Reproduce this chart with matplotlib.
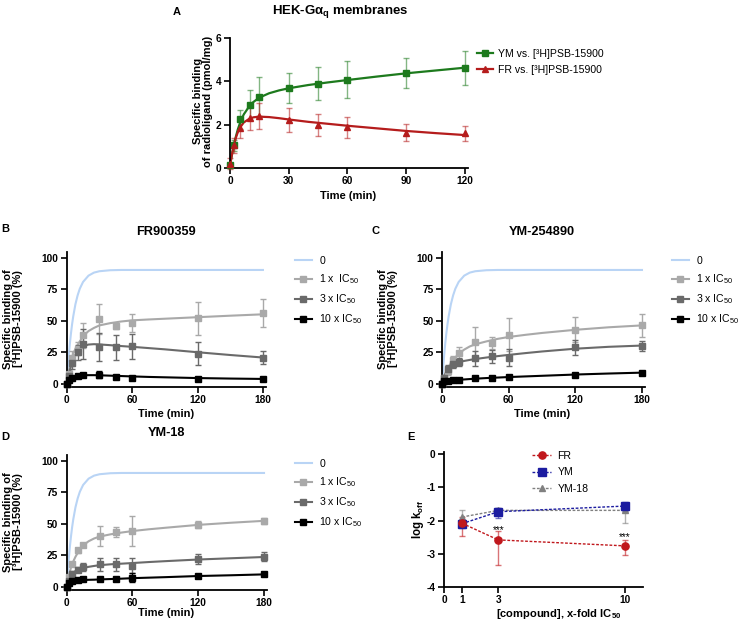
import matplotlib
matplotlib.use("Agg")
import matplotlib.pyplot as plt
from matplotlib.lines import Line2D

plt.rcParams['font.family'] = ['Liberation Sans', 'DejaVu Sans']
plt.rcParams['mathtext.fontset'] = 'custom'
plt.rcParams['mathtext.rm'] = 'Liberation Sans'
plt.rcParams['mathtext.bf'] = 'Liberation Sans:bold'
plt.rcParams['mathtext.it'] = 'Liberation Sans:italic'
plt.rcParams['axes.unicode_minus'] = False

# ---------------- Panel A data ----------------
a_t = [0, 2, 5, 10, 15, 30, 45, 60, 90, 120]
a_ym = [0.15, 1.05, 2.25, 2.9, 3.3, 3.7, 3.9, 4.07, 4.4, 4.63]
a_ym_err = [0.1, 0.25, 0.45, 0.7, 0.9, 0.7, 0.78, 0.85, 0.7, 0.78]
a_fr = [0.2, 1.05, 1.85, 2.3, 2.4, 2.2, 2.0, 1.87, 1.63, 1.6]
a_fr_err = [0.25, 0.35, 0.45, 0.55, 0.6, 0.55, 0.5, 0.47, 0.38, 0.35]
a_ct = [0, 1, 2, 3, 4, 5, 7, 10, 12, 15, 20, 25, 30, 40, 50, 60, 75, 90, 105, 120]
a_ym_fit = [0.12, 0.62, 1.07, 1.45, 1.78, 2.05, 2.47, 2.87, 3.05, 3.25, 3.45, 3.58, 3.68, 3.83, 3.95, 4.06, 4.22, 4.37, 4.5, 4.63]
a_fr_fit = [0.12, 0.62, 1.05, 1.4, 1.65, 1.85, 2.1, 2.28, 2.34, 2.37, 2.35, 2.3, 2.24, 2.13, 2.04, 1.95, 1.83, 1.71, 1.61, 1.52]
a_labels = ['YM vs. [³H]PSB-15900', 'FR vs. [³H]PSB-15900']

# ---------------- Panels B-D data ----------------
k_t = [0, 2, 5, 10, 15, 30, 45, 60, 120, 180]
k_ct = [0, 1, 2, 3, 4, 5, 6, 8, 10, 12, 15, 20, 25, 30, 40, 50, 60, 75, 90, 120, 150, 180]
ctrl_fit = [0, 12.6, 23.4, 32.8, 40.8, 47.8, 53.7, 63.3, 70.3, 75.6, 81.0, 86.0, 88.4, 89.5, 90.3, 90.5, 90.5, 90.5, 90.5, 90.5, 90.5, 90.5]
k_labels = ['0', '1 x  IC$_{50}$', '3 x IC$_{50}$', '10 x IC$_{50}$']
k_labels_c = ['0', '1 x IC$_{50}$', '3 x IC$_{50}$', '10 x IC$_{50}$']

b_1x = [0, 8, 20.5, 28, 38.5, 51.5, 46, 48.5, 52, 56.5]
b_1x_err = [1, 3, 6, 5, 10, 12, 2, 7, 13, 11]
b_3x = [0, 6, 17, 25, 32, 29.5, 29, 30, 24, 21]
b_3x_err = [1, 2, 5, 6, 12, 11, 10, 10, 9, 5]
b_10x = [0, 3, 5, 6.5, 7, 7.5, 5.5, 4.5, 4, 4]
b_10x_err = [0.5, 1, 1, 1, 1, 2.5, 1, 1, 1, 1]
b_1x_fit = [0, 5.5, 10, 14, 17.7, 21, 24, 28, 31, 33.8, 38, 42, 44.5, 46.5, 48.3, 49.6, 50.5, 51.2, 51.8, 53, 54.2, 55.3]
b_3x_fit = [0, 4.3, 8, 11.3, 14.3, 17, 19.3, 23, 26, 28, 30, 31.3, 31.6, 31.4, 30.8, 30.1, 29.5, 28.5, 27.5, 25.2, 23, 21]
b_10x_fit = [0, 1.7, 3, 3.9, 4.6, 5.2, 5.6, 6.1, 6.5, 6.7, 6.9, 7.0, 7.0, 6.9, 6.6, 6.3, 6.0, 5.6, 5.3, 4.7, 4.3, 4.0]

c_1x = [0, 5, 10.5, 19, 24.5, 33, 32.5, 39, 43, 46.5]
c_1x_err = [1, 2, 3, 3, 5, 12, 5, 13, 10, 9]
c_3x = [0, 5, 12, 15.5, 17.5, 20.5, 22, 21, 29, 30.5]
c_3x_err = [1, 2, 3, 3, 3, 6, 5, 7, 6, 4]
c_10x = [0, 2, 2.5, 3, 3.5, 4.5, 5, 5.5, 7.5, 9]
c_10x_err = [0.5, 0.5, 0.5, 0.5, 0.5, 0.7, 0.7, 0.7, 1.2, 0.8]
c_1x_fit = [0, 3.2, 6, 8.3, 10.3, 12, 13.7, 16.5, 19, 21, 24, 27.3, 29.8, 31.5, 33.8, 35.8, 37.3, 39, 40.5, 43, 45, 46.5]
c_3x_fit = [0, 3.3, 6, 8, 9.8, 11.3, 12.5, 14.3, 15.5, 16.4, 17.3, 18.3, 19.1, 19.8, 21, 22.1, 23.1, 24.5, 25.8, 28, 29.5, 30.5]
c_10x_fit = [0, 1.0, 1.7, 2.1, 2.4, 2.6, 2.7, 2.9, 3.0, 3.1, 3.3, 3.6, 3.9, 4.2, 4.7, 5.1, 5.5, 6.0, 6.5, 7.5, 8.3, 9.0]

d_1x = [0, 8, 18, 29, 33.5, 40.5, 44, 44.5, 49.5, 52.5]
d_1x_err = [1, 2, 1, 2, 1.5, 8, 4, 12, 3, 2.5]
d_3x = [0, 5, 10.5, 13.5, 16, 18, 18, 17, 22, 24]
d_3x_err = [1, 1.5, 2, 2, 3, 5, 5, 6, 4, 3.5]
d_10x = [0, 3, 5, 5.5, 6, 6, 6.5, 7.5, 9, 10]
d_10x_err = [0.5, 1, 1, 1, 1, 1, 1, 3.5, 1.5, 1.5]
d_1x_fit = [0, 4.8, 9, 12.6, 15.6, 18, 20.3, 24, 27, 29.6, 33, 36.3, 38.5, 40, 41.8, 43.2, 44.4, 45.8, 47, 49.3, 51, 52.5]
d_3x_fit = [0, 3.3, 6, 7.8, 9.3, 10.5, 11.4, 12.6, 13.5, 14.2, 15, 16, 16.7, 17.3, 18, 18.5, 19, 19.8, 20.5, 21.8, 22.8, 23.8]
d_10x_fit = [0, 1.8, 3, 3.7, 4.2, 4.5, 4.7, 5.0, 5.2, 5.3, 5.5, 5.7, 5.8, 6.0, 6.3, 6.6, 7.0, 7.4, 7.8, 8.7, 9.3, 10.0]

# ---------------- Panel E data ----------------
e_x = [1, 3, 10]
e_fr = [-2.08, -2.58, -2.76]
e_fr_lo = [0.39, 0.77, 0.27]
e_fr_hi = [0.19, 0.26, 0.18]
e_ym = [-2.09, -1.73, -1.56]
e_ym_lo = [0.12, 0.18, 0.15]
e_ym_hi = [0.12, 0.12, 0.12]
e_y18 = [-1.89, -1.69, -1.69]
e_y18_lo = [0.2, 0.08, 0.37]
e_y18_hi = [0.22, 0.08, 0.05]
e_labels = ['FR', 'YM', 'YM-18']
e_star_x = [3, 10]
e_star_y = [-2.27, -2.51]

# ---------------- figure ----------------
W, H = 738, 623
fig = plt.figure(figsize=(W / 100, H / 100), dpi=100)


def px_axes(x0, x1, ytop, ybot):
    return fig.add_axes([x0 / W, 1 - ybot / H, (x1 - x0) / W, (ybot - ytop) / H])


def fx(x):
    return x / W


def fy(y):
    return 1 - y / H


TICK_FS = 7.3
LAB_FS = 8
TITLE_FS = 9.2
LEG_FS = 7.6
MS = 3.8


def style(ax):
    for s in ['top', 'right']:
        ax.spines[s].set_visible(False)
    for s in ['left', 'bottom']:
        ax.spines[s].set_linewidth(1.3)
    ax.tick_params(direction='out', length=4, width=1.2, labelsize=TICK_FS, pad=2)
    for lab in ax.get_xticklabels() + ax.get_yticklabels():
        lab.set_fontweight('bold')


# ---------- Panel A ----------
green = '#1d7a1d'
red = '#b51c1c'
axA = px_axes(230, 467.9, 38, 168)
axA.errorbar(a_t, a_ym, yerr=a_ym_err, fmt='none', ecolor=green, alpha=0.55,
             elinewidth=1, capsize=2.2, capthick=1, clip_on=False)
axA.errorbar(a_t, a_fr, yerr=a_fr_err, fmt='none', ecolor=red, alpha=0.55,
             elinewidth=1, capsize=2.2, capthick=1, clip_on=False)
axA.plot(a_ct, a_ym_fit, color=green, lw=1.6)
axA.plot(a_ct, a_fr_fit, color=red, lw=1.6)
axA.plot(a_t, a_ym, 's', color=green, ms=MS, clip_on=False, zorder=5)
axA.plot(a_t, a_fr, '^', color=red, ms=MS, clip_on=False, zorder=5)
axA.set_xlim(0, 121.5)
axA.set_ylim(0, 6)
axA.set_xticks([0, 30, 60, 90, 120])
axA.set_yticks([0, 2, 4, 6])
style(axA)
axA.set_xlabel('Time (min)', fontsize=LAB_FS, fontweight='bold')
axA.xaxis.set_label_coords(fx(348), fy(191), transform=fig.transFigure)
axA.set_ylabel('Specific binding\nof radioligand (pmol/mg)', fontsize=LAB_FS,
               fontweight='bold', linespacing=1.0)
axA.yaxis.set_label_coords(fx(213), fy(101), transform=fig.transFigure)
hA = [Line2D([], [], color=green, marker='s', ms=MS, lw=1.6),
      Line2D([], [], color=red, marker='^', ms=MS, lw=1.6)]
axA.legend(hA, a_labels, loc='upper left', bbox_to_anchor=(fx(477), fy(49)),
           bbox_transform=fig.transFigure, frameon=False, fontsize=LEG_FS,
           handlelength=1.5, handletextpad=0.5, labelspacing=0.55,
           borderpad=0, borderaxespad=0)
fig.text(fx(340), fy(12), 'HEK-Gα$_{\\mathbf{q}}$ membranes', ha='center', va='center',
         fontsize=9.5, fontweight='bold')
fig.text(fx(177), fy(12), 'A', ha='center', va='center', fontsize=8, fontweight='bold')

# ---------- Panels B-D ----------
c_ctrl = '#b9d4f5'
c1 = '#a9a9a9'
c3 = '#6a6a6a'
c10 = '#000000'


def kin_panel(ax, p1, e1, f1, p3, e3, f3, p10, e10, f10, labels, title, tx, ty, letter, lx, ly,
              legx, legy, ylabx, ylaby, xlab_y):
    ax.plot(k_ct, ctrl_fit, color=c_ctrl, lw=1.5)
    for p, e, f, c in [(p1, e1, f1, c1), (p3, e3, f3, c3), (p10, e10, f10, c10)]:
        ax.errorbar(k_t, p, yerr=e, fmt='none', ecolor=c, elinewidth=1, capsize=2.2,
                    capthick=1, clip_on=False)
        ax.plot(k_ct, f, color=c, lw=1.5)
        ax.plot(k_t, p, 's', color=c, ms=MS, clip_on=False, zorder=5)
    ax.set_xlim(0, 183)
    ax.set_ylim(-2, 105)
    ax.set_xticks([0, 60, 120, 180])
    ax.set_yticks([0, 25, 50, 75, 100])
    style(ax)
    ax.set_xlabel('Time (min)', fontsize=LAB_FS, fontweight='bold')
    ax.xaxis.set_label_coords(fx(tx), fy(xlab_y), transform=fig.transFigure)
    ax.set_ylabel('Specific binding of\n[³H]PSB-15900 (%)', fontsize=LAB_FS,
                  fontweight='bold', linespacing=1.0)
    ax.yaxis.set_label_coords(fx(ylabx), fy(ylaby), transform=fig.transFigure)
    hs = [Line2D([], [], color=c_ctrl, lw=1.5),
          Line2D([], [], color=c1, marker='s', ms=MS, lw=1.5),
          Line2D([], [], color=c3, marker='s', ms=MS, lw=1.5),
          Line2D([], [], color=c10, marker='s', ms=MS, lw=1.5)]
    ax.legend(hs, labels, loc='upper left', bbox_to_anchor=(fx(legx), fy(legy)),
              bbox_transform=fig.transFigure, frameon=False, fontsize=LEG_FS,
              handlelength=1.6, handletextpad=0.7, labelspacing=0.6,
              borderpad=0, borderaxespad=0)
    fig.text(fx(tx), fy(ty), title, ha='center', va='center', fontsize=TITLE_FS,
             fontweight='bold')
    fig.text(fx(lx), fy(ly), letter, ha='center', va='center', fontsize=8,
             fontweight='bold')


axB = px_axes(66.7, 266.2, 251.7, 386.5)
kin_panel(axB, b_1x, b_1x_err, b_1x_fit, b_3x, b_3x_err, b_3x_fit, b_10x, b_10x_err, b_10x_fit,
          k_labels, 'FR900359', 166, 232, 'B', 5, 229, 295, 256, 23, 319, 409)
axC = px_axes(442, 645.3, 251.7, 386.5)
kin_panel(axC, c_1x, c_1x_err, c_1x_fit, c_3x, c_3x_err, c_3x_fit, c_10x, c_10x_err, c_10x_fit,
          k_labels_c, 'YM-254890', 542, 232, 'C', 375, 231, 672, 256, 398, 319, 409)
axD = px_axes(66.7, 267.3, 454.7, 589.5)
kin_panel(axD, d_1x, d_1x_err, d_1x_fit, d_3x, d_3x_err, d_3x_fit, d_10x, d_10x_err, d_10x_fit,
          k_labels_c, 'YM-18', 166, 433, 'D', 5, 437, 295, 459, 23, 522, 608)

# ---------- Panel E ----------
e_red = '#c0171c'
e_blue = '#1c1ca0'
e_gray = '#808080'
axE = px_axes(444, 643, 452, 587)
for y, lo, hi, c, m, ms in [(e_y18, e_y18_lo, e_y18_hi, e_gray, '^', 4.3),
                            (e_ym, e_ym_lo, e_ym_hi, e_blue, 's', 5.2),
                            (e_fr, e_fr_lo, e_fr_hi, e_red, 'o', 5.2)]:
    axE.errorbar(e_x, y, yerr=[lo, hi], fmt='none', ecolor=c, alpha=0.6, elinewidth=1,
                 capsize=2.3, capthick=1)
    axE.plot(e_x, y, color=c, lw=1, ls=(0, (2, 1.2)), marker=m, ms=ms, zorder=4)
for x, y in zip(e_star_x, e_star_y):
    axE.text(x, y, '***', ha='center', va='center', fontsize=7.3)
axE.set_xlim(0, 11)
axE.set_ylim(-4, 0.07)
axE.set_xticks([0, 1, 3, 10])
axE.set_yticks([0, -1, -2, -3, -4])
style(axE)
axE.set_xlabel('[compound], x-fold IC$_{\\mathbf{50}}$', fontsize=LAB_FS, fontweight='bold')
axE.xaxis.set_label_coords(fx(559), fy(607), transform=fig.transFigure)
axE.set_ylabel('log k$_{\\mathbf{off}}$', fontsize=LAB_FS + 0.3, fontweight='bold')
axE.yaxis.set_label_coords(fx(426), fy(519), transform=fig.transFigure)
hE = [Line2D([], [], color=e_red, lw=1, ls=(0, (2, 1.2)), marker='o', ms=5.2),
      Line2D([], [], color=e_blue, lw=1, ls=(0, (2, 1.2)), marker='s', ms=5.2),
      Line2D([], [], color=e_gray, lw=1, ls=(0, (2, 1.2)), marker='^', ms=4.3)]
axE.legend(hE, e_labels, loc='upper left', bbox_to_anchor=(fx(532), fy(451)),
           bbox_transform=fig.transFigure, frameon=False, fontsize=LEG_FS,
           handlelength=1.8, handletextpad=0.6, labelspacing=0.6,
           borderpad=0, borderaxespad=0)
fig.text(fx(411), fy(437), 'E', ha='center', va='center', fontsize=8, fontweight='bold')

fig.savefig('out.png', dpi=100)
